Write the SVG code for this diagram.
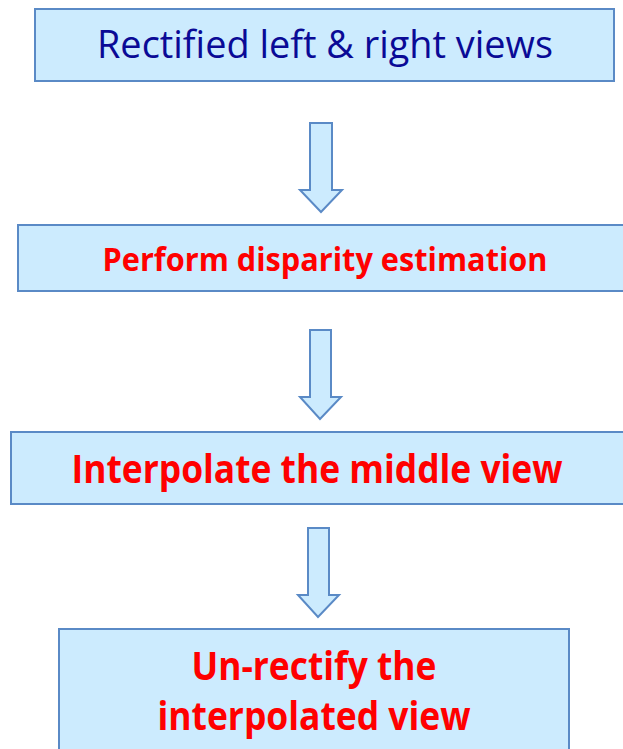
<svg xmlns="http://www.w3.org/2000/svg" width="623" height="749" viewBox="0 0 623 749">
<style>
.box{fill:#CCEBFE;stroke:#5A8AC6;stroke-width:2}
.arr{fill:#CCEBFE;stroke:#5A8AC6;stroke-width:2;stroke-linejoin:miter}
text{font-family:"Open Sans","Noto Sans","Liberation Sans",sans-serif;text-anchor:middle}
.t1{fill:#0A0A96;font-size:39px}
.t{fill:#FF0000;font-weight:bold}
</style>
<rect width="623" height="749" fill="#FFFFFF"/>
<g id="connectors">
<polygon class="arr" points="310,123 332,123 332,190 342,190 321,212 300,190 310,190"/>
<polygon class="arr" points="310,330 331,330 331,397 341,397 320,419 300,397 310,397"/>
<polygon class="arr" points="308,528 329,528 329,595 339,595 318,617 298,595 308,595"/>
</g>
<g id="n1">
<rect class="box" x="35" y="9" width="579" height="72"/>
<text class="t1" x="325" y="58" textLength="456" lengthAdjust="spacingAndGlyphs">Rectified left &amp; right views</text>
</g>
<g id="n2">
<rect class="box" x="18" y="225" width="610" height="66"/>
<text class="t" x="325" y="271" font-size="33" textLength="445" lengthAdjust="spacingAndGlyphs">Perform disparity estimation</text>
</g>
<g id="n3">
<rect class="box" x="11" y="432" width="617" height="72"/>
<text class="t" x="317" y="483" font-size="39" textLength="491" lengthAdjust="spacingAndGlyphs">Interpolate the middle view</text>
</g>
<g id="n4">
<rect class="box" x="59" y="629" width="510" height="130"/>
<text class="t" x="314" y="680" font-size="39" textLength="245" lengthAdjust="spacingAndGlyphs">Un-rectify the</text>
<text class="t" x="314" y="730" font-size="39" textLength="313" lengthAdjust="spacingAndGlyphs">interpolated view</text>
</g>
</svg>
